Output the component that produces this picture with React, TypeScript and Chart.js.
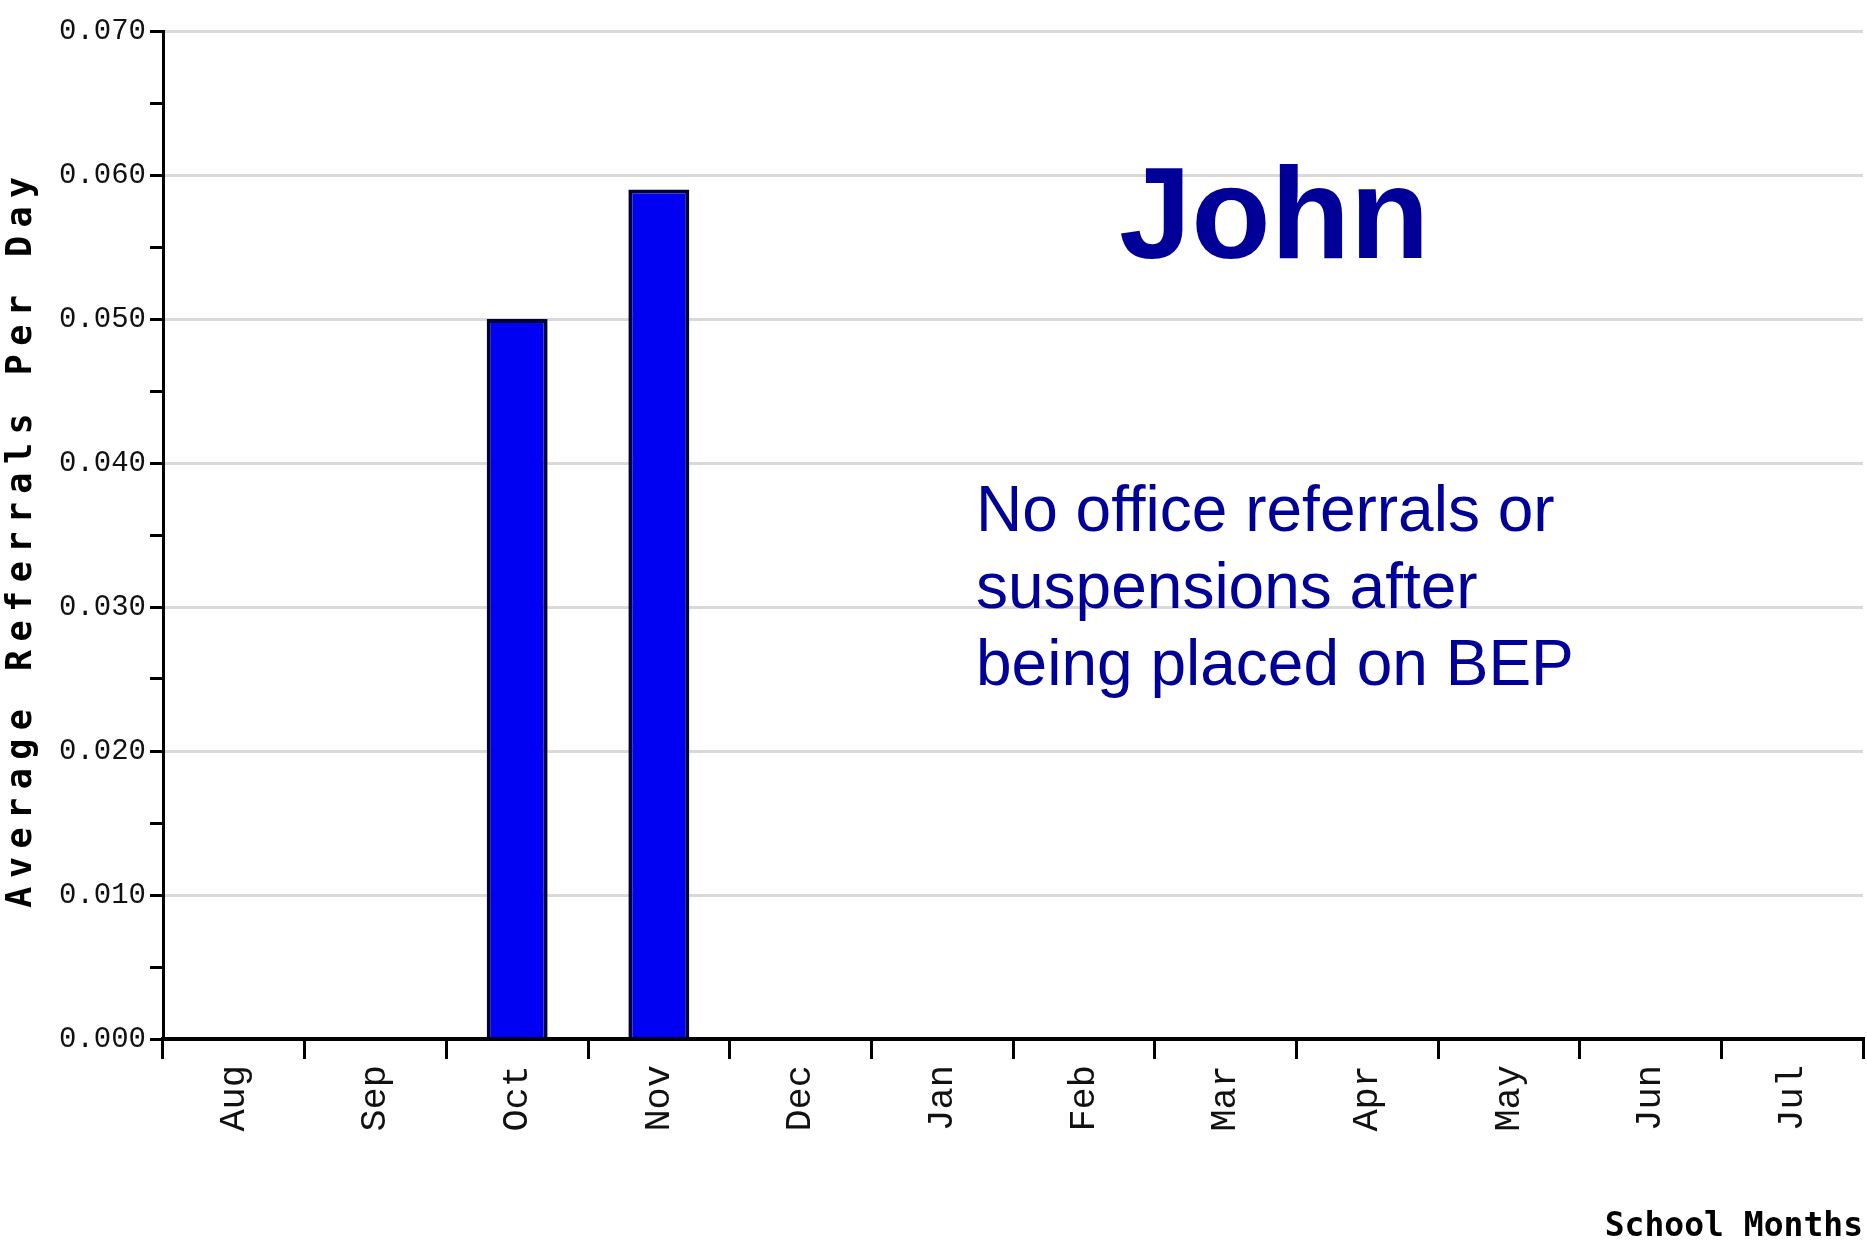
import React, { useEffect, useRef } from "react";
import { Chart, registerables } from "chart.js";

Chart.register(...registerables);

const months = ["Aug", "Sep", "Oct", "Nov", "Dec", "Jan", "Feb", "Mar", "Apr", "May", "Jun", "Jul"];
const referralsPerDay = [0, 0, 0.05, 0.059, 0, 0, 0, 0, 0, 0, 0, 0];
const yMin = 0;
const yMax = 0.07;
const yStep = 0.005;
const yTitle = "Average Referrals Per Day";
const xTitle = "School Months";
const studentName = "John";
const noteLines = ["No office referrals or", "suspensions after", "being placed on BEP"];

const isMajor = (v: number) => Math.round(v * 1000) % 10 === 0;

const annotationPlugin = {
  id: "annotations",
  afterDraw(chart: any) {
    const ctx = chart.ctx as CanvasRenderingContext2D;
    const area = chart.chartArea;
    ctx.save();
    // y-axis title (spaced bold monospace)
    ctx.fillStyle = "#000";
    ctx.font = "bold 35px 'DejaVu Sans Mono', monospace";
    (ctx as any).letterSpacing = "8.5px";
    ctx.textAlign = "center";
    ctx.textBaseline = "middle";
    ctx.translate(22, (area.top + area.bottom) / 2 + 3);
    ctx.rotate(-Math.PI / 2);
    ctx.fillText(yTitle, 0, 0);
    ctx.restore();

    ctx.save();
    (ctx as any).letterSpacing = "0px";
    ctx.fillStyle = "#000099";
    ctx.textAlign = "left";
    ctx.textBaseline = "alphabetic";
    ctx.font = "bold 130px 'Liberation Sans', Arial, sans-serif";
    ctx.fillText(studentName, 1119, 258);
    ctx.font = "64px 'Liberation Sans', Arial, sans-serif";
    noteLines.forEach((line, i) => {
      ctx.fillText(line, 976, 531 + i * 77);
    });
    ctx.restore();
  },
};

export default function App() {
  const canvasRef = useRef<HTMLCanvasElement | null>(null);

  useEffect(() => {
    document.body.style.margin = "0";
    document.body.style.overflow = "hidden";
    const canvas = canvasRef.current;
    if (!canvas) return;
    const chart = new Chart(canvas, {
      type: "bar",
      data: {
        labels: months,
        datasets: [
          {
            data: referralsPerDay,
            backgroundColor: "#0000f2",
            borderColor: "#000038",
            borderWidth: 4,
            barPercentage: 0.43,
            categoryPercentage: 1,
          },
        ],
      },
      options: {
        responsive: true,
        maintainAspectRatio: false,
        animation: false,
        layout: { padding: { top: 31, right: 4, left: 0, bottom: 0 } },
        plugins: {
          legend: { display: false },
          tooltip: { enabled: false },
          title: { display: false },
        },
        scales: {
          x: {
            offset: true,
            afterFit: (scale: any) => {
              scale.height = 210;
            },
            border: { display: true, color: "#000", width: 4 },
            grid: {
              display: true,
              drawOnChartArea: false,
              drawTicks: true,
              tickLength: 20,
              offset: true,
              color: "#000",
              lineWidth: 3,
            },
            ticks: {
              autoSkip: false,
              maxRotation: 90,
              minRotation: 90,
              padding: 6,
              color: "#111",
              font: { family: "'Liberation Mono', 'DejaVu Sans Mono', monospace", size: 37 },
            },
            title: {
              display: true,
              text: xTitle,
              align: "end",
              color: "#000",
              padding: { top: 4, bottom: 2 },
              font: { family: "'DejaVu Sans Mono', monospace", size: 33, weight: "bold", lineHeight: 1.2 },
            },
          },
          y: {
            min: yMin,
            max: yMax,
            afterFit: (scale: any) => {
              scale.width = 163;
            },
            border: { display: true, color: "#000", width: 3 },
            grid: {
              color: (ctx: any) => (ctx.tick && isMajor(ctx.tick.value) ? "#d9d9d9" : "rgba(0,0,0,0)"),
              tickColor: "#000",
              lineWidth: 3,
              tickWidth: 3,
              tickLength: 13,
              drawTicks: true,
            },
            ticks: {
              stepSize: yStep,
              autoSkip: false,
              padding: 4,
              color: "#111",
              font: { family: "'Liberation Mono', 'DejaVu Sans Mono', monospace", size: 29 },
              callback: (value: any) => (isMajor(Number(value)) ? Number(value).toFixed(3) : ""),
            },
            title: { display: false },
          },
        },
      },
      plugins: [annotationPlugin],
    } as any);
    return () => chart.destroy();
  }, []);

  return (
    <div style={{ width: "1867px", height: "1249px", position: "relative", background: "#fff" }}>
      <canvas ref={canvasRef} style={{ display: "block" }} />
    </div>
  );
}
